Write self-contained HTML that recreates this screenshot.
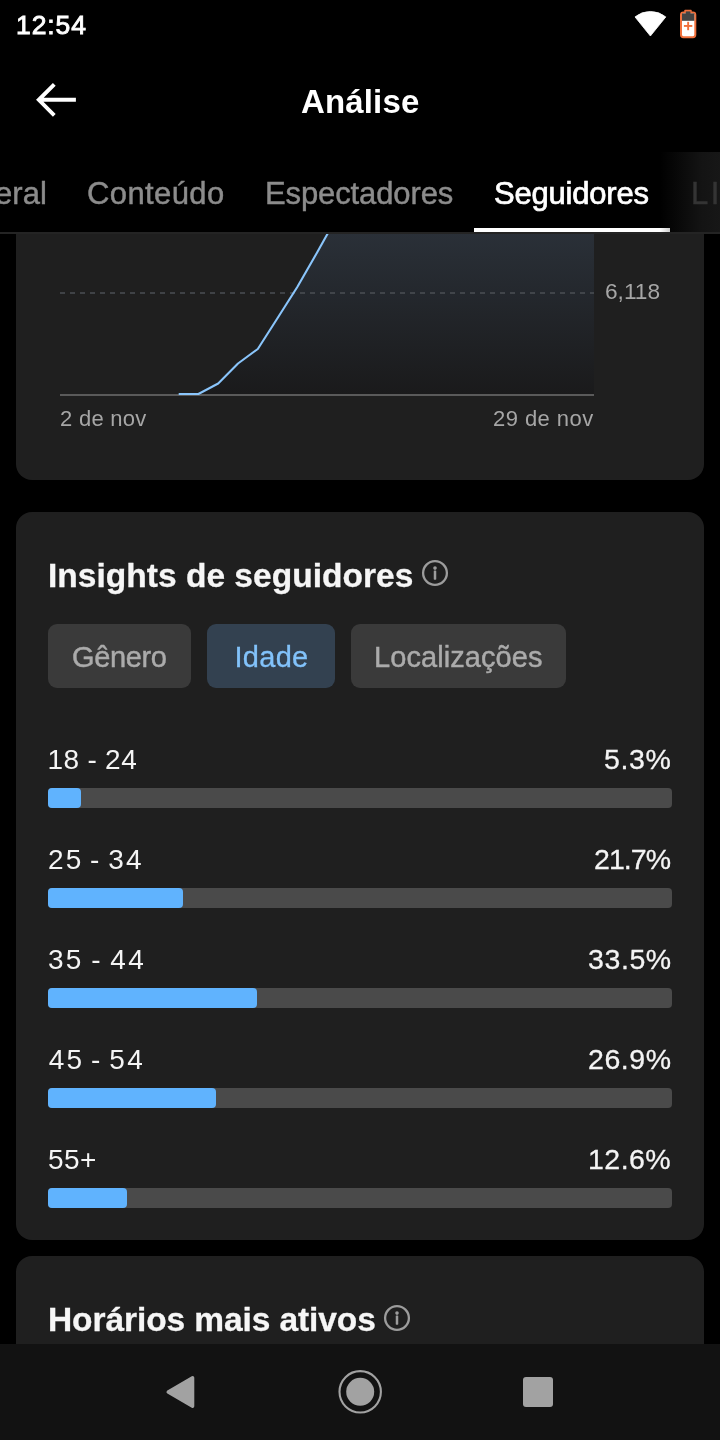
<!DOCTYPE html>
<html lang="pt-BR">
<head>
<meta charset="utf-8">
<title>Análise</title>
<style>
html,body{margin:0;padding:0;background:#000;}
body{width:720px;height:1440px;position:relative;overflow:hidden;font-family:"Liberation Sans",sans-serif;color:#fff;}
.t{position:absolute;white-space:nowrap;line-height:1;margin:0;padding:0;}
.abs{position:absolute;}
.card{position:absolute;left:16px;width:688px;background:#1f1f1f;border-radius:16px;}
.chip{position:absolute;top:624px;height:64px;border-radius:9px;background:#3a3a3a;}
.track{position:absolute;left:48px;width:624px;height:20px;border-radius:4px;background:#4a4a4a;}
.fill{position:absolute;left:48px;height:20px;border-radius:4px;background:#60b3fe;}
.lbl{font-size:28px;color:#f4f4f4;}
.pct{font-size:28.5px;color:#f4f4f4;left:600px;-webkit-text-stroke:0.3px #f4f4f4;}
.tab{font-size:31px;color:#8c8c8c;top:178px;-webkit-text-stroke:0.45px currentColor;}
</style>
</head>
<body>

<!-- ===== content cards ===== -->
<div class="card" id="card1" style="top:200px;height:280px;"></div>
<svg class="abs" style="left:0;top:233px;" width="720" height="200" viewBox="0 233 720 200">
  <defs>
    <linearGradient id="g1" x1="0" y1="233" x2="0" y2="395" gradientUnits="userSpaceOnUse">
      <stop offset="0" stop-color="#2a3038"/>
      <stop offset="1" stop-color="#1a1a1b"/>
    </linearGradient>
  </defs>
  <path d="M178.7 394 L198.4 394 L218.2 383.5 L238 363.5 L257.8 349 L277.6 318 L297.3 287 L317.1 252.5 L336.9 217 L594 217 L594 395 L178.7 395 Z" fill="url(#g1)"/>
  <line x1="60" y1="293" x2="594" y2="293" stroke="#4b4f54" stroke-width="1.6" stroke-dasharray="5 5"/>
  <line x1="60" y1="395" x2="594" y2="395" stroke="#5a5a5a" stroke-width="2"/>
  <path d="M178.7 394 L198.4 394 L218.2 383.5 L238 363.5 L257.8 349 L277.6 318 L297.3 287 L317.1 252.5 L336.9 217" fill="none" stroke="#8ac5fb" stroke-width="2.1" stroke-linejoin="round"/>
</svg>
<div class="t" id="y6118" style="left:605px;top:280px;font-size:22.7px;color:#a6a6a6;">6,118</div>
<div class="t" id="d1" style="left:60px;top:408px;font-size:22px;color:#a6a6a6;letter-spacing:0.27px;">2 de nov</div>
<div class="t" id="d2" style="left:493px;top:408px;font-size:22px;color:#a6a6a6;letter-spacing:0.45px;">29 de nov</div>

<div class="card" id="card2" style="top:512px;height:728px;"></div>
<div class="t" id="h1" style="left:48px;top:559px;font-size:33.5px;font-weight:700;color:#f6f6f6;-webkit-text-stroke:0.3px #f6f6f6;letter-spacing:0.02px;">Insights de seguidores</div>
<svg class="abs" style="left:421px;top:559px;" width="28" height="28" viewBox="0 0 28 28">
  <circle cx="14" cy="14" r="11.9" fill="none" stroke="#9c9c9c" stroke-width="2.3"/>
  <rect x="12.75" y="11.4" width="2.5" height="9.3" rx="0.6" fill="#9c9c9c"/>
  <circle cx="14" cy="9.1" r="1.8" fill="#9c9c9c"/>
</svg>

<div class="chip" style="left:48px;width:143px;"></div>
<div class="chip" style="left:207px;width:128px;background:#334150;"></div>
<div class="chip" style="left:351px;width:215px;"></div>
<div class="t" id="c1" style="left:72px;top:643.3px;font-size:29px;color:#ababab;-webkit-text-stroke:0.45px #ababab;letter-spacing:-0.36px;">Gênero</div>
<div class="t" id="c2" style="left:234.5px;top:643.3px;font-size:29px;color:#82c2fa;-webkit-text-stroke:0.3px #82c2fa;letter-spacing:0.29px;">Idade</div>
<div class="t" id="c3" style="left:374px;top:643.3px;font-size:29px;color:#ababab;-webkit-text-stroke:0.45px #ababab;letter-spacing:0.08px;">Localizações</div>

<div class="t lbl" id="l1" style="left:47.4px;top:746.4px;letter-spacing:0.5px;word-spacing:-0.4px;">18 - 24</div>
<div class="t pct" id="p1" style="left:604px;top:745.4px;letter-spacing:0.6px;">5.3%</div>
<div class="track" style="top:788px;"></div><div class="fill" style="top:788px;width:33px;"></div>

<div class="t lbl" id="l2" style="left:48px;top:846.4px;word-spacing:-3.7px;letter-spacing:2.3px;">25 - 34</div>
<div class="t pct" id="p2" style="left:594px;top:845.4px;letter-spacing:-0.96px;">21.7%</div>
<div class="track" style="top:888px;"></div><div class="fill" style="top:888px;width:135px;"></div>

<div class="t lbl" id="l3" style="left:48px;top:946.4px;word-spacing:-2.6px;letter-spacing:2.3px;">35 - 44</div>
<div class="t pct" id="p3" style="left:588px;top:945.4px;letter-spacing:0.6px;">33.5%</div>
<div class="track" style="top:988px;"></div><div class="fill" style="top:988px;width:209px;"></div>

<div class="t lbl" id="l4" style="left:48.7px;top:1046.4px;word-spacing:-3.6px;letter-spacing:2.35px;">45 - 54</div>
<div class="t pct" id="p4" style="left:588px;top:1045.4px;letter-spacing:0.58px;">26.9%</div>
<div class="track" style="top:1088px;"></div><div class="fill" style="top:1088px;width:168px;"></div>

<div class="t lbl" id="l5" style="left:48px;top:1146.4px;letter-spacing:0.46px;">55+</div>
<div class="t pct" id="p5" style="left:588px;top:1145.4px;letter-spacing:0.47px;">12.6%</div>
<div class="track" style="top:1188px;"></div><div class="fill" style="top:1188px;width:79px;"></div>

<div class="card" id="card3" style="top:1256px;height:200px;"></div>
<div class="t" id="h2" style="left:48px;top:1303px;font-size:33.5px;font-weight:700;color:#f6f6f6;-webkit-text-stroke:0.3px #f6f6f6;letter-spacing:-0.09px;">Horários mais ativos</div>
<svg class="abs" style="left:383px;top:1304px;" width="28" height="28" viewBox="0 0 28 28">
  <circle cx="14" cy="14" r="11.9" fill="none" stroke="#9c9c9c" stroke-width="2.3"/>
  <rect x="12.75" y="11.4" width="2.5" height="9.3" rx="0.6" fill="#9c9c9c"/>
  <circle cx="14" cy="9.1" r="1.8" fill="#9c9c9c"/>
</svg>

<!-- ===== top header (covers scrolled content) ===== -->
<div class="abs" id="header" style="left:0;top:0;width:720px;height:232px;background:#000;"></div>
<div class="abs" style="left:0;top:232px;width:720px;height:2px;background:#242424;"></div>
<div class="abs" style="left:474px;top:228px;width:196px;height:4px;background:#fff;"></div>
<div class="abs" style="left:660px;top:152px;width:60px;height:80px;background:linear-gradient(90deg,rgba(0,0,0,0),rgba(22,22,22,0.9) 70%,#171717);"></div>

<div class="t" id="time" style="left:16px;top:12px;font-size:26.5px;color:#fff;-webkit-text-stroke:0.9px #fff;letter-spacing:0.9px;">12:54</div>
<svg class="abs" style="left:630px;top:6px;" width="80" height="36" viewBox="630 6 80 36">
  <path d="M650.4 36 L635 16.9 A24.5 24.5 0 0 1 665.8 16.9 Z" fill="#fff" stroke="#fff" stroke-width="0.8" stroke-linejoin="round"/>
  <rect x="684.3" y="9.8" width="7.4" height="4" rx="0.8" fill="#f0703c"/>
  <rect x="681" y="12.4" width="14.3" height="24.8" rx="2.4" fill="#fff" stroke="#f0703c" stroke-width="2"/>
  <rect x="682" y="13.4" width="12.3" height="7.4" fill="#444"/>
  <rect x="685.8" y="11.4" width="4.6" height="3" fill="#444"/>
  <rect x="687.2" y="21.8" width="1.9" height="8.4" fill="#f0703c"/>
  <rect x="683.9" y="25" width="8.4" height="1.9" fill="#f0703c"/>
</svg>

<svg class="abs" style="left:30px;top:78px;" width="54" height="44" viewBox="30 78 54 44">
  <path d="M75.9 99.8 H39.5 M54.3 84.3 L38.8 99.8 L54.3 115.3" fill="none" stroke="#fff" stroke-width="3.9" stroke-linecap="butt" stroke-linejoin="miter"/>
</svg>
<div class="t" id="title" style="left:301px;top:84.5px;font-size:33px;font-weight:700;color:#fff;letter-spacing:0.15px;">Análise</div>

<div class="t tab" id="t0" style="left:-29px;">Geral</div>
<div class="t tab" id="t1" style="left:87px;letter-spacing:0.39px;">Conteúdo</div>
<div class="t tab" id="t2" style="left:265px;letter-spacing:-0.11px;">Espectadores</div>
<div class="t tab" id="t3" style="left:494px;color:#fff;-webkit-text-stroke:0.7px #fff;letter-spacing:-0.2px;">Seguidores</div>
<div class="t tab" id="t4" style="left:691px;color:#343434;letter-spacing:2.5px;">LIVE</div>

<!-- ===== system nav bar ===== -->
<div class="abs" style="left:0;top:1344px;width:720px;height:96px;background:#121212;"></div>
<svg class="abs" style="left:0;top:1344px;" width="720" height="96" viewBox="0 1344 720 96">
  <path d="M192.6 1377.8 L192.6 1406.2 L168.2 1392 Z" fill="#a2a2a2" stroke="#a2a2a2" stroke-width="3.4" stroke-linejoin="round"/>
  <circle cx="360.2" cy="1391.8" r="20.7" fill="none" stroke="#a2a2a2" stroke-width="2.1"/>
  <circle cx="360.2" cy="1391.8" r="14" fill="#a2a2a2"/>
  <rect x="523" y="1377" width="30" height="30" rx="3" fill="#a2a2a2"/>
</svg>

</body>
</html>
